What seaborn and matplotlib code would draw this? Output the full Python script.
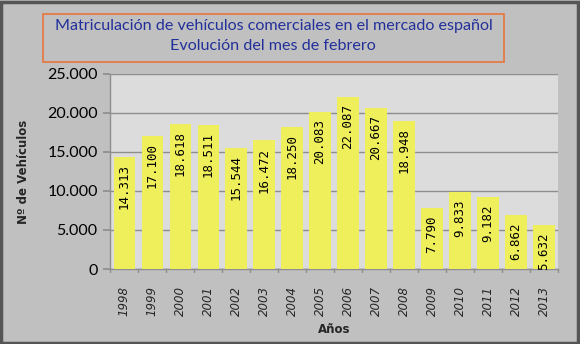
import matplotlib
matplotlib.use("Agg")
import matplotlib.pyplot as plt
from matplotlib.patches import Rectangle
from matplotlib.ticker import FuncFormatter
import pandas as pd
import seaborn as sns

years = ["1998", "1999", "2000", "2001", "2002", "2003", "2004", "2005",
         "2006", "2007", "2008", "2009", "2010", "2011", "2012", "2013"]
vehicles = [14313, 17100, 18618, 18511, 15544, 16472, 18250, 20083,
            22087, 20667, 18948, 7790, 9833, 9182, 6862, 5632]

title_lines = ["Matriculación de vehículos comerciales en el mercado español",
               "Evolución del mes de febrero"]

df = pd.DataFrame({"Año": years, "Vehículos": vehicles})

sns.set_theme(style="white")
plt.rcParams["font.family"] = ["DejaVu Sans"]

fig = plt.figure(figsize=(5.8, 3.44), dpi=100, facecolor="#c0c0c0")
ax = fig.add_axes([0.19, 0.218, 0.772, 0.567])
ax.set_facecolor("#dcdcdc")

sns.barplot(data=df, x="Año", y="Vehículos", color="#efef5c", saturation=1,
            width=0.76, ax=ax, zorder=3, edgecolor="none", linewidth=0)

ax.set_ylim(0, 25000)
ax.set_yticks(range(0, 25001, 5000))
ax.yaxis.set_major_formatter(FuncFormatter(lambda v, p: f"{int(v):,}".replace(",", ".")))
ax.grid(axis="y", color="#8e8e8e", linewidth=1.0, zorder=0)
ax.set_axisbelow(True)

for s in ["top", "right"]:
    ax.spines[s].set_visible(False)
for s in ["left", "bottom"]:
    ax.spines[s].set_color("#8e8e8e")
    ax.spines[s].set_linewidth(1.0)

ax.tick_params(axis="y", labelsize=11.5, colors="#8e8e8e", labelcolor="black",
               length=5, direction="out", pad=4, left=True)
for lab in ax.get_yticklabels():
    lab.set_family("Lato")
ax.tick_params(axis="x", labelsize=8.5, bottom=False, pad=6)
for lab in ax.get_xticklabels():
    lab.set_rotation(90)
    lab.set_fontstyle("italic")

# separators between categories on the x axis
for i in range(len(years) + 1):
    ax.plot([i - 0.5, i - 0.5], [0, -350], color="#8e8e8e", lw=1,
            clip_on=False, zorder=4)
ax.set_xlim(-0.5, len(years) - 0.5)

# value labels inside the bars
for i, v in enumerate(vehicles):
    ax.text(i, v - 900, f"{v:,}".replace(",", "."), rotation=90,
            ha="center", va="top", fontsize=9, family="DejaVu Sans Mono",
            color="black", zorder=5)

ax.set_xlabel("Años", fontsize=8.5, fontweight="bold", labelpad=5)
ax.set_ylabel("Nº de Vehículos", fontsize=8.5, fontweight="bold", labelpad=12)

# title box
fig.patches.append(Rectangle((43 / 580, 1 - 62 / 344), 461 / 580, 48 / 344,
                             transform=fig.transFigure, facecolor="none",
                             edgecolor="#e8743a", linewidth=1.2))
fig.text(274 / 580, 1 - 26 / 344, title_lines[0], ha="center", va="center",
         fontsize=11.6, color="#22309a", family="Lato")
fig.text(273 / 580, 1 - 46 / 344, title_lines[1], ha="center", va="center",
         fontsize=11.6, color="#22309a", family="Lato")

# outer frame
fig.patches.append(Rectangle((0.002, 0.004), 0.994, 0.99, transform=fig.transFigure,
                             facecolor="none", edgecolor="#555555", linewidth=2.5))

fig.savefig("out.png", dpi=100, facecolor=fig.get_facecolor())
